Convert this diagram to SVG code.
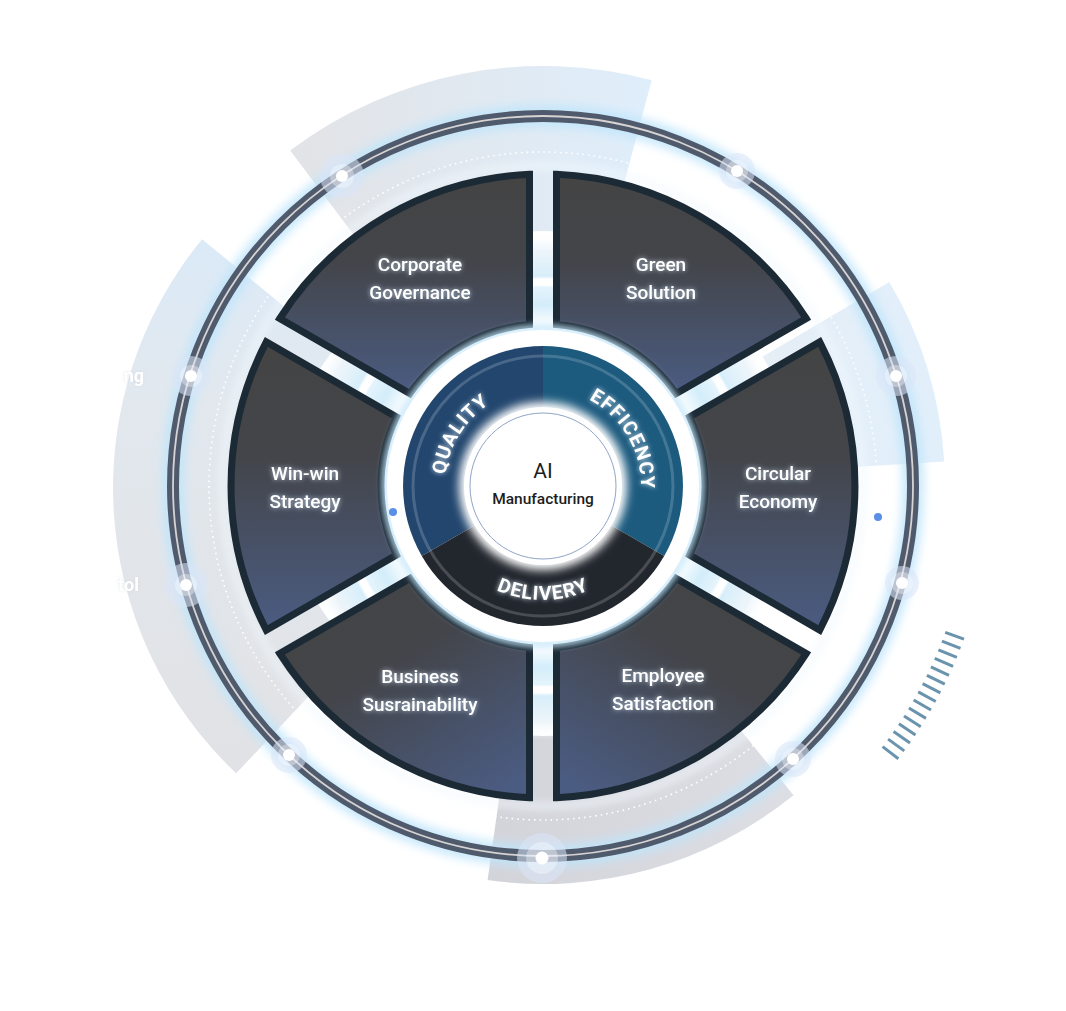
<svg xmlns="http://www.w3.org/2000/svg" width="1066" height="1011" viewBox="0 0 1066 1011">
<style>
.seg{stroke:#1c2a36;stroke-width:7;stroke-linejoin:miter}
.lbl{font-family:Roboto,"Liberation Sans",Arial,sans-serif;font-size:19px;font-weight:500;fill:#fff;text-anchor:middle;filter:url(#tg)}
.arc{font-family:Roboto,"Liberation Sans",Arial,sans-serif;font-size:19.5px;font-weight:700;fill:#fff;letter-spacing:1px;filter:url(#tg2)}
.side{font-family:Roboto,"Liberation Sans",Arial,sans-serif;font-size:18px;font-weight:700;fill:#fff;text-anchor:end;filter:url(#ts)}
.tick{stroke:#6a93ad;stroke-width:3}
.halo{fill:#dbe6f7;opacity:.55}
.halo2{fill:#fff;opacity:.35}
.wdot{fill:#fff}
</style>
<defs>
<filter id="tg" x="-20%" y="-40%" width="140%" height="180%"><feGaussianBlur in="SourceAlpha" stdDeviation="2.5" result="b"/><feFlood flood-color="#d6e9fb" flood-opacity="0.8"/><feComposite in2="b" operator="in" result="g"/><feMerge><feMergeNode in="g"/><feMergeNode in="SourceGraphic"/></feMerge></filter>
<filter id="tg2" x="-30%" y="-30%" width="160%" height="160%"><feGaussianBlur in="SourceAlpha" stdDeviation="2.5" result="b"/><feFlood flood-color="#e4f2ff" flood-opacity="0.9"/><feComposite in2="b" operator="in" result="g"/><feMerge><feMergeNode in="g"/><feMergeNode in="SourceGraphic"/></feMerge></filter>
<filter id="ts" x="-30%" y="-40%" width="160%" height="180%"><feGaussianBlur in="SourceAlpha" stdDeviation="1.5" result="b"/><feFlood flood-color="#c9d0d8" flood-opacity="0.6"/><feComposite in2="b" operator="in" result="g"/><feMerge><feMergeNode in="g"/><feMergeNode in="SourceGraphic"/></feMerge></filter>
<filter id="bl5" x="-20%" y="-20%" width="140%" height="140%"><feGaussianBlur stdDeviation="5"/></filter>
<filter id="bl3" x="-20%" y="-20%" width="140%" height="140%"><feGaussianBlur stdDeviation="3"/></filter>
<linearGradient id="gV" x1="0" y1="0" x2="0" y2="1"><stop offset="0" stop-color="#444444"/><stop offset="0.4" stop-color="#43454a"/><stop offset="1" stop-color="#4b5c82"/></linearGradient>
<linearGradient id="gBL" x1="0.15" y1="0" x2="0.85" y2="1"><stop offset="0" stop-color="#444444"/><stop offset="0.4" stop-color="#43454a"/><stop offset="1" stop-color="#4b5c82"/></linearGradient>
<linearGradient id="gBR" x1="0.85" y1="0" x2="0.15" y2="1"><stop offset="0" stop-color="#444444"/><stop offset="0.4" stop-color="#43454a"/><stop offset="1" stop-color="#4b5c82"/></linearGradient>
<linearGradient id="bandTop" x1="0" y1="0" x2="1" y2="0"><stop offset="0" stop-color="#e2e3e6"/><stop offset="1" stop-color="#dfeefb"/></linearGradient>
<linearGradient id="bandLeft" x1="0" y1="0" x2="0" y2="1"><stop offset="0" stop-color="#dbeaf8"/><stop offset="0.3" stop-color="#e2e8ee"/><stop offset="1" stop-color="#e1e2e5"/></linearGradient>
<linearGradient id="bandRight" x1="0" y1="0" x2="1" y2="0"><stop offset="0" stop-color="#e6eef6"/><stop offset="1" stop-color="#e1effb"/></linearGradient>
<linearGradient id="bandBot" x1="0" y1="0" x2="1" y2="0"><stop offset="0" stop-color="#d3d4da"/><stop offset="1" stop-color="#dddee4"/></linearGradient>
<radialGradient id="gapG" gradientUnits="userSpaceOnUse" cx="543" cy="486" r="318">
<stop offset="0" stop-color="#ffffff"/>
<stop offset="0.5" stop-color="#ffffff"/>
<stop offset="0.57" stop-color="#d3edfa"/>
<stop offset="0.625" stop-color="#e4f4fc"/>
<stop offset="0.632" stop-color="#ffffff"/>
<stop offset="0.65" stop-color="#ffffff"/>
<stop offset="0.66" stop-color="#d6eefa"/>
<stop offset="0.74" stop-color="#e8f2f9" stop-opacity="0.8"/>
<stop offset="0.8" stop-color="#ffffff" stop-opacity="0"/>
<stop offset="1" stop-color="#ffffff" stop-opacity="0"/>
</radialGradient>
<path id="pq" d="M458.1 535 A98 98 0 0 1 543 388"/>
<path id="pe" d="M543 388 A98 98 0 0 1 627.9 535"/>
<path id="pd" d="M444.3 543 A114 114 0 0 0 641.7 543"/>
</defs>
<rect width="1066" height="1011" fill="#ffffff"/>

<g id="background-bands">
<path d="M290.2 150.6 A420 420 0 0 1 651.7 80.3 L609 239.7 A255 255 0 0 0 389.5 282.4 Z" fill="url(#bandTop)"/>
<path d="M202.1 239.2 A392 392 0 0 0 236.2 773.3 L354.1 648.1 A220 220 0 0 1 335 348.4 Z" fill="url(#bandLeft)"/>
<path d="M889.4 282 A402 402 0 0 1 944.2 461.5 L797.5 470.4 A255 255 0 0 0 762.7 356.6 Z" fill="url(#bandRight)"/>
<path d="M793.5 795.3 A398 398 0 0 1 487.6 880.1 L508.2 733.6 A250 250 0 0 0 700.3 680.3 Z" fill="url(#bandBot)"/>
<text class="side" x="144" y="382">ng</text>
<text class="side" x="139" y="591">tol</text>
</g>

<g id="glows">
<circle cx="543" cy="486" r="370" fill="none" stroke="#bfe5fb" stroke-width="22" opacity="0.85" filter="url(#bl5)"/>
<circle cx="543" cy="486" r="320" fill="none" stroke="#f1f8fd" stroke-width="10" opacity="0.45" filter="url(#bl3)"/>
<circle cx="543" cy="486" r="318" fill="url(#gapG)"/>
<circle cx="543" cy="486" r="334" fill="none" stroke="#ffffff" stroke-width="1.6" stroke-dasharray="1.6 4"/>
</g>

<g id="outer-ring">
<circle cx="543" cy="486" r="370" fill="none" stroke="#4f5b6c" stroke-width="12"/>
<circle cx="543" cy="486" r="370" fill="none" stroke="#d8d3d3" stroke-width="1.8"/>
</g>

<g id="ring-dots">
<g transform="translate(342 176)"><circle class="halo" r="22"/><circle class="halo2" r="12"/><circle class="wdot" r="6"/></g>
<g transform="translate(737 171)"><circle class="halo" r="18"/><circle class="halo2" r="11"/><circle class="wdot" r="6"/></g>
<g transform="translate(191 376)"><circle class="halo" r="20"/><circle class="halo2" r="11"/><circle class="wdot" r="6"/></g>
<g transform="translate(896 376)"><circle class="halo" r="20"/><circle class="halo2" r="11"/><circle class="wdot" r="6"/></g>
<g transform="translate(186 585)"><circle class="halo" r="22"/><circle class="halo2" r="11"/><circle class="wdot" r="6"/></g>
<g transform="translate(902 583)"><circle class="halo" r="17"/><circle class="halo2" r="11"/><circle class="wdot" r="6"/></g>
<g transform="translate(289 755)"><circle class="halo" r="18"/><circle class="halo2" r="11"/><circle class="wdot" r="6"/></g>
<g transform="translate(793 759)"><circle class="halo" r="18"/><circle class="halo2" r="11"/><circle class="wdot" r="6"/></g>
<g transform="translate(542 858)"><circle class="halo" r="25"/><circle class="halo2" r="16"/><circle class="wdot" r="6.5"/></g>
<circle cx="878" cy="517" r="4" fill="#5b8ee6"/>
</g>

<g id="ticks">
<line class="tick" x1="945.2" y1="632.4" x2="964" y2="639.2"/>
<line class="tick" x1="941.9" y1="641.1" x2="960.5" y2="648.4"/>
<line class="tick" x1="938.4" y1="649.8" x2="956.9" y2="657.4"/>
<line class="tick" x1="934.7" y1="658.4" x2="953.1" y2="666.4"/>
<line class="tick" x1="930.9" y1="666.9" x2="949" y2="675.3"/>
<line class="tick" x1="926.9" y1="675.3" x2="944.8" y2="684.2"/>
<line class="tick" x1="922.6" y1="683.6" x2="940.4" y2="692.8"/>
<line class="tick" x1="918.2" y1="691.9" x2="935.8" y2="701.5"/>
<line class="tick" x1="913.6" y1="700" x2="931" y2="710"/>
<line class="tick" x1="908.9" y1="708" x2="926" y2="718.4"/>
<line class="tick" x1="904" y1="716" x2="920.8" y2="726.7"/>
<line class="tick" x1="898.9" y1="723.8" x2="915.5" y2="734.9"/>
<line class="tick" x1="893.6" y1="731.5" x2="910" y2="743"/>
<line class="tick" x1="888.1" y1="739.1" x2="904.3" y2="750.9"/>
<line class="tick" x1="882.6" y1="746.6" x2="898.4" y2="758.7"/>
</g>

<g id="seg-corporate-governance">
<path class="seg" fill="url(#gV)" d="M279.8 318.5 A312 312 0 0 1 529.5 174.3 L529.5 324.6 A162 162 0 0 0 409.9 393.6 Z"/>
<text class="lbl" x="420" y="271">Corporate</text>
<text class="lbl" x="420" y="299">Governance</text>
</g>
<g id="seg-green-solution">
<path class="seg" fill="url(#gV)" d="M556.5 174.3 A312 312 0 0 1 806.2 318.5 L676.1 393.6 A162 162 0 0 0 556.5 324.6 Z"/>
<text class="lbl" x="661" y="271">Green</text>
<text class="lbl" x="661" y="299">Solution</text>
</g>
<g id="seg-circular-economy">
<path class="seg" fill="url(#gV)" d="M819.7 341.9 A312 312 0 0 1 819.7 630.1 L689.6 555 A162 162 0 0 0 689.6 417 Z"/>
<text class="lbl" x="778" y="480">Circular</text>
<text class="lbl" x="778" y="508">Economy</text>
</g>
<g id="seg-employee-satisfaction">
<path class="seg" fill="url(#gBR)" d="M806.2 653.5 A312 312 0 0 1 556.5 797.7 L556.5 647.4 A162 162 0 0 0 676.1 578.4 Z"/>
<text class="lbl" x="663" y="682">Employee</text>
<text class="lbl" x="663" y="710">Satisfaction</text>
</g>
<g id="seg-business-susrainability">
<path class="seg" fill="url(#gBL)" d="M529.5 797.7 A312 312 0 0 1 279.8 653.5 L409.9 578.4 A162 162 0 0 0 529.5 647.4 Z"/>
<text class="lbl" x="420" y="683">Business</text>
<text class="lbl" x="420" y="711">Susrainability</text>
</g>
<g id="seg-win-win-strategy">
<path class="seg" fill="url(#gV)" d="M266.3 630.1 A312 312 0 0 1 266.3 341.9 L396.4 417 A162 162 0 0 0 396.4 555 Z"/>
<text class="lbl" x="305" y="480">Win-win</text>
<text class="lbl" x="305" y="508">Strategy</text>
</g>

<g id="core">
<circle cx="543" cy="486" r="158" fill="none" stroke="#c4e7fa" stroke-width="6" filter="url(#bl3)"/>
<circle cx="543" cy="486" r="156" fill="#ffffff"/>
<circle cx="393" cy="512" r="4" fill="#5b8ee6"/>
<path d="M543 486 L421.8 556 A140 140 0 0 1 543 346 Z" fill="#22466e"/>
<path d="M543 486 L543 346 A140 140 0 0 1 664.2 556 Z" fill="#1c5a7e"/>
<path d="M543 486 L664.2 556 A140 140 0 0 1 421.8 556 Z" fill="#22272e"/>
<circle cx="543" cy="486" r="130" fill="none" stroke="#ffffff" stroke-opacity="0.18" stroke-width="3"/>
<circle cx="543" cy="486" r="84" fill="#ffffff" filter="url(#bl5)"/>
<circle cx="543" cy="486" r="79" fill="#ffffff"/>
<circle cx="543" cy="486" r="73" fill="none" stroke="#8fa5c6" stroke-width="1"/>
<text class="arc"><textPath href="#pq" startOffset="51.5%" text-anchor="middle">QUALITY</textPath></text>
<text class="arc"><textPath href="#pe" startOffset="50%" text-anchor="middle">EFFICENCY</textPath></text>
<text class="arc"><textPath href="#pd" startOffset="50%" text-anchor="middle">DELIVERY</textPath></text>
<text x="543" y="478" font-family="Roboto,'Liberation Sans',Arial,sans-serif" font-size="21" fill="#1d1d1d" text-anchor="middle">AI</text>
<text x="543" y="504" font-family="Roboto,'Liberation Sans',Arial,sans-serif" font-size="15.5" font-weight="500" fill="#1d1d1d" text-anchor="middle">Manufacturing</text>
</g>
</svg>
